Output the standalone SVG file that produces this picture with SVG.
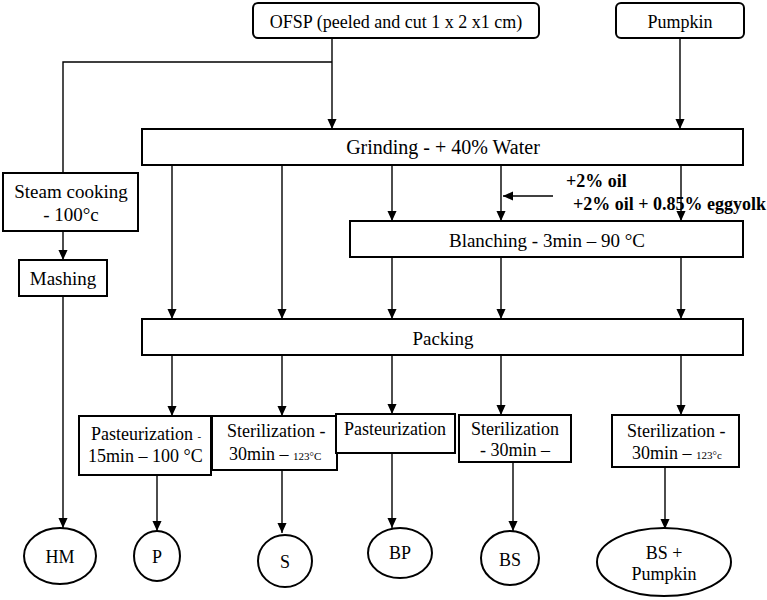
<svg xmlns="http://www.w3.org/2000/svg" width="767" height="600" viewBox="0 0 767 600">
<style>
.box{fill:#fff;stroke:#000;stroke-width:2}
.ell{fill:#fff;stroke:#000;stroke-width:2}
.ln{fill:none;stroke:#000;stroke-width:1.4}
.ar{fill:none;stroke:#000;stroke-width:1.4;marker-end:url(#ah)}
text{font-family:"Liberation Serif","Times New Roman",serif;font-size:18px;fill:#000}
.m{text-anchor:middle}
.b{font-weight:bold}
.s{font-size:11px}
</style>
<defs>
<marker id="ah" markerWidth="10" markerHeight="11" refX="11" refY="5" orient="auto" markerUnits="userSpaceOnUse" viewBox="0 0 11 10">
<path d="M0,0 L11,5 L0,10 z" fill="#000"/>
</marker>
</defs>
<rect width="767" height="600" fill="#fff"/>
<g id="connectors">
<line class="ar" x1="332" y1="38" x2="332" y2="129"/>
<polyline class="ln" points="332,62 63,62 63,173"/>
<line class="ar" x1="680" y1="38" x2="680" y2="129"/>
<line class="ar" x1="63" y1="231" x2="63" y2="260"/>
<line class="ar" x1="63" y1="296" x2="63" y2="528"/>
<line class="ar" x1="172" y1="165" x2="172" y2="319"/>
<line class="ar" x1="282" y1="165" x2="282" y2="319"/>
<line class="ar" x1="392" y1="165" x2="392" y2="221"/>
<line class="ar" x1="501" y1="165" x2="501" y2="221"/>
<line class="ar" x1="681" y1="165" x2="681" y2="221"/>
<line class="ar" x1="553" y1="196" x2="503" y2="196"/>
<line class="ar" x1="392" y1="257" x2="392" y2="319"/>
<line class="ar" x1="501" y1="257" x2="501" y2="319"/>
<line class="ar" x1="681" y1="257" x2="681" y2="319"/>
<line class="ar" x1="172" y1="355" x2="172" y2="416"/>
<line class="ar" x1="282" y1="355" x2="282" y2="416"/>
<line class="ar" x1="392" y1="355" x2="392" y2="414"/>
<line class="ar" x1="501" y1="355" x2="501" y2="415"/>
<line class="ar" x1="681" y1="355" x2="681" y2="415"/>
<line class="ar" x1="157" y1="475" x2="157" y2="531"/>
<line class="ar" x1="282" y1="470" x2="282" y2="533"/>
<line class="ar" x1="392" y1="453" x2="392" y2="528"/>
<line class="ar" x1="513" y1="460" x2="513" y2="531"/>
<line class="ar" x1="665" y1="467" x2="665" y2="529"/>
</g>
<g id="ofsp">
<rect class="box" x="253" y="3" width="286" height="35" rx="5"/>
<text class="m" x="396" y="28">OFSP (peeled and cut 1 x 2 x1 cm)</text>
</g>
<g id="pumpkin">
<rect class="box" x="616" y="3" width="128" height="35" rx="5"/>
<text class="m" x="680" y="28">Pumpkin</text>
</g>
<g id="grinding">
<rect class="box" x="142" y="129" width="601" height="36"/>
<text class="m" x="443" y="154" style="font-size:20px">Grinding - + 40% Water</text>
</g>
<g id="steam">
<rect class="box" x="3" y="173" width="135" height="58"/>
<text class="m" x="71" y="198" style="font-size:19px">Steam cooking</text>
<text class="m" x="71" y="221" style="font-size:19px">- 100°c</text>
</g>
<g id="mashing">
<rect class="box" x="19" y="260" width="88" height="36"/>
<text class="m" x="63" y="285" style="font-size:19px">Mashing</text>
</g>
<g id="additives">
<text class="b" x="566" y="187">+2% oil</text>
<text class="b" x="573" y="210">+2% oil + 0.85% eggyolk</text>
</g>
<g id="blanching">
<rect class="box" x="350" y="221" width="393" height="36"/>
<text class="m" x="547" y="247" style="font-size:19px">Blanching - 3min – 90 °C</text>
</g>
<g id="packing">
<rect class="box" x="142" y="319" width="601" height="36"/>
<text class="m" x="443" y="345" style="font-size:19px">Packing</text>
</g>
<g id="past1">
<rect class="box" x="79" y="416" width="132" height="59"/>
<text x="91" y="440">Pasteurization <tspan class="s">-</tspan></text>
<text x="88" y="462">15min – 100 °C</text>
</g>
<g id="ster1">
<rect class="box" x="212" y="416" width="125" height="54"/>
<text x="227" y="437">Sterilization -</text>
<text x="229" y="460">30min – <tspan class="s">123°C</tspan></text>
</g>
<g id="past2">
<rect class="box" x="336" y="414" width="119" height="39"/>
<text class="m" x="395" y="435">Pasteurization</text>
</g>
<g id="ster2">
<rect class="box" x="459" y="415" width="112" height="47"/>
<text class="m" x="515" y="435">Sterilization</text>
<text class="m" x="515" y="456">- 30min –</text>
</g>
<g id="ster3">
<rect class="box" x="612" y="415" width="127" height="52"/>
<text x="627" y="437">Sterilization -</text>
<text x="632" y="459">30min – <tspan class="s">123°c</tspan></text>
</g>
<g id="hm">
<ellipse class="ell" cx="60" cy="556" rx="36" ry="28"/>
<text class="m" x="60" y="563">HM</text>
</g>
<g id="p">
<ellipse class="ell" cx="157" cy="556" rx="23" ry="25"/>
<text class="m" x="157" y="563">P</text>
</g>
<g id="s">
<ellipse class="ell" cx="285" cy="561" rx="27" ry="26"/>
<text class="m" x="285" y="568">S</text>
</g>
<g id="bp">
<ellipse class="ell" cx="400" cy="553" rx="32" ry="25"/>
<text class="m" x="400" y="559">BP</text>
</g>
<g id="bs">
<ellipse class="ell" cx="510" cy="558" rx="29" ry="27"/>
<text class="m" x="510" y="566">BS</text>
</g>
<g id="bsp">
<ellipse class="ell" cx="664" cy="562" rx="67" ry="34"/>
<text class="m" x="664" y="559">BS +</text>
<text class="m" x="664" y="580">Pumpkin</text>
</g>
</svg>
